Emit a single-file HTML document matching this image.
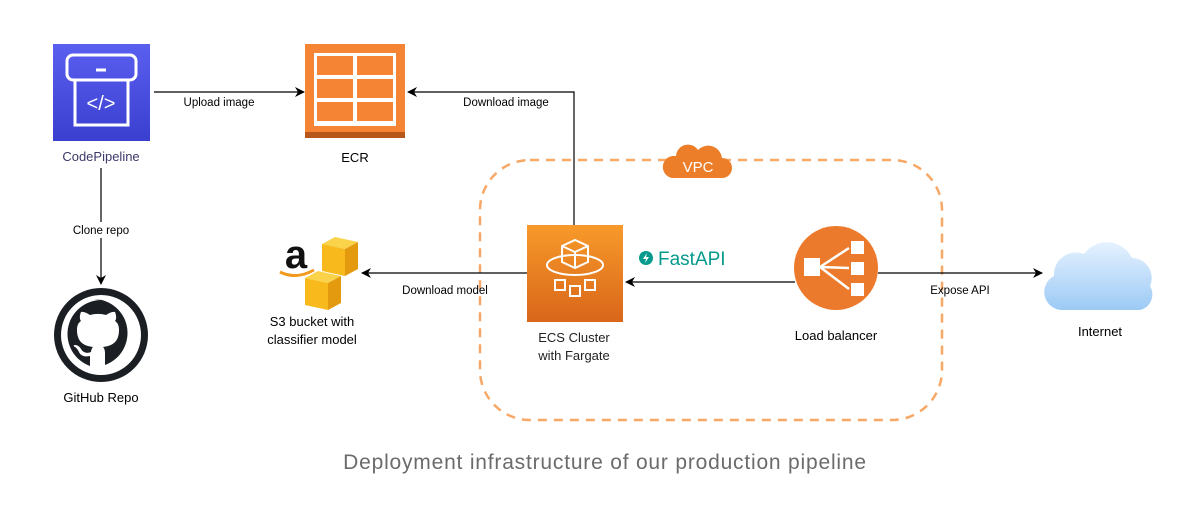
<!DOCTYPE html>
<html><head><meta charset="utf-8"><style>
body{margin:0;background:#fff;}
svg{display:block;font-family:"Liberation Sans",sans-serif;}
</style></head><body>
<svg width="1200" height="506" viewBox="0 0 1200 506">
<defs>
<linearGradient id="bl" x1="0" y1="0" x2="0" y2="1"><stop offset="0" stop-color="#5a5ff0"/><stop offset="1" stop-color="#3b3fd0"/></linearGradient>
<linearGradient id="or" x1="0" y1="0" x2="0" y2="1"><stop offset="0" stop-color="#f79a2a"/><stop offset="1" stop-color="#d9661a"/></linearGradient>
<linearGradient id="cl" x1="0" y1="0" x2="0" y2="1"><stop offset="0" stop-color="#e6f2ff"/><stop offset="1" stop-color="#9ccaf5"/></linearGradient>
<marker id="ar" markerWidth="10" markerHeight="10" refX="9" refY="5" orient="auto" markerUnits="userSpaceOnUse"><path d="M0,0 L10,5 L0,10 L3,5 z" fill="#000"/></marker>
</defs>
<!-- VPC -->
<rect x="480" y="160" width="462" height="260" rx="50" fill="none" stroke="#f7a866" stroke-width="2.5" stroke-dasharray="9 7"/>
<path d="M672,178 h50 a10,10 0 0 0 0,-20 a14,14 0 0 0 -24,-8 a12,12 0 0 0 -22,6 a11,11 0 0 0 -4,22 z" fill="#ec7e2a"/>
<text x="698" y="172" font-size="15" fill="#fff" text-anchor="middle">VPC</text>
<!-- CodePipeline -->
<rect x="53" y="44" width="97" height="97" fill="url(#bl)"/>
<rect x="67" y="55" width="69" height="25" rx="6" fill="none" stroke="#fff" stroke-width="3"/>
<line x1="96" y1="70" x2="106" y2="70" stroke="#fff" stroke-width="3"/>
<rect x="75" y="80" width="53" height="45" fill="none" stroke="#fff" stroke-width="3"/>
<text x="101" y="110" font-size="20" fill="#fff" text-anchor="middle">&lt;/&gt;</text>
<text x="101" y="161" font-size="13" fill="#3a3a6a" text-anchor="middle">CodePipeline</text>
<!-- Upload -->
<line x1="154" y1="92" x2="304" y2="92" stroke="#000" stroke-width="1.2" marker-end="url(#ar)"/>
<text x="219" y="106" font-size="11.5" text-anchor="middle">Upload image</text>
<!-- ECR -->
<rect x="305" y="44" width="100" height="94" fill="#f58534"/>
<rect x="305" y="132" width="100" height="6" fill="#b8571c"/>
<rect x="314" y="53" width="82" height="73" fill="#fff"/>
<g fill="#f58534">
<rect x="317" y="56" width="36" height="19"/><rect x="357" y="56" width="36" height="19"/>
<rect x="317" y="79" width="36" height="19"/><rect x="357" y="79" width="36" height="19"/>
<rect x="317" y="102" width="36" height="19"/><rect x="357" y="102" width="36" height="19"/>
</g>
<text x="355" y="162" font-size="13" text-anchor="middle">ECR</text>
<!-- download image -->
<polyline points="574,225 574,92 408,92" fill="none" stroke="#000" stroke-width="1.2" marker-end="url(#ar)"/>
<text x="506" y="106" font-size="11.5" text-anchor="middle">Download image</text>
<!-- Clone -->
<line x1="101" y1="168" x2="101" y2="284" stroke="#000" stroke-width="1.2" marker-end="url(#ar)"/>
<rect x="60" y="222" width="82" height="16" fill="#fff"/>
<text x="101" y="234" font-size="11.5" text-anchor="middle">Clone repo</text>
<!-- GitHub -->
<circle cx="101" cy="335" r="47" fill="#1b1f23"/>
<circle cx="101" cy="335" r="40" fill="#fff"/>
<path d="M101,300 a34,34 0 0 0 -11,66 v-10 c-9,2 -11,-4 -11,-4 c-2,-4 -4,-5 -4,-5 c-3,-2 0,-2 0,-2 c4,0 6,4 6,4 c3,5 8,4 10,3 c0,-2 1,-4 2,-5 c-8,-1 -16,-4 -16,-17 c0,-4 1,-7 4,-9 c-1,-1 -2,-4 0,-9 c0,0 3,-1 9,3 a30,30 0 0 1 16,0 c6,-4 9,-3 9,-3 c2,5 1,8 0,9 c3,2 4,5 4,9 c0,13 -8,16 -16,17 c1,1 2,3 2,6 v12 a34,34 0 0 0 -11,-66 z" fill="#1b1f23"/>
<text x="101" y="402" font-size="13" text-anchor="middle">GitHub Repo</text>
<!-- S3 -->
<text x="296" y="268" font-size="40" font-weight="bold" text-anchor="middle" fill="#111">a</text>
<path d="M280,272 q16,8 34,-2" fill="none" stroke="#f29a1e" stroke-width="3"/>
<g>
<path d="M322,244 l13,-7 l23,5 l-13,7 z" fill="#fbd34a"/>
<path d="M322,244 l23,5 v27 l-23,-5 z" fill="#f8b91c"/>
<path d="M345,249 l13,-7 v27 l-13,7 z" fill="#e49a0e"/>
<path d="M305,278 l13,-7 l23,5 l-13,7 z" fill="#fbd34a"/>
<path d="M305,278 l23,5 v27 l-23,-5 z" fill="#f8b91c"/>
<path d="M328,283 l13,-7 v27 l-13,7 z" fill="#e49a0e"/>
</g>
<text x="312" y="326" font-size="13" text-anchor="middle">S3 bucket with</text>
<text x="312" y="344" font-size="13" text-anchor="middle">classifier model</text>
<line x1="527" y1="273" x2="362" y2="273" stroke="#000" stroke-width="1.2" marker-end="url(#ar)"/>
<text x="445" y="294" font-size="11.5" text-anchor="middle">Download model</text>
<!-- ECS -->
<rect x="527" y="225" width="96" height="97" fill="url(#or)"/>
<g fill="none" stroke="#fff" stroke-width="2">
<path d="M562,246 l13,-6 l13,6 v16 l-13,6 l-13,-6 z M562,246 l13,6 l13,-6 M575,252 v16"/>
<ellipse cx="575" cy="265" rx="28" ry="10"/>
<rect x="555" y="280" width="10" height="10"/><rect x="570" y="286" width="10" height="10"/><rect x="585" y="280" width="10" height="10"/>
</g>
<text x="574" y="342" font-size="13" fill="#222" text-anchor="middle">ECS Cluster</text>
<text x="574" y="360" font-size="13" fill="#222" text-anchor="middle">with Fargate</text>
<!-- FastAPI -->
<circle cx="646" cy="258" r="7" fill="#059a8c"/>
<path d="M647,253 l-4,6 h3 l-1,4 l4,-6 h-3 z" fill="#fff"/>
<text x="658" y="265" font-size="19" fill="#059a8c">FastAPI</text>
<line x1="795" y1="282" x2="626" y2="282" stroke="#000" stroke-width="1.2" marker-end="url(#ar)"/>
<!-- LB -->
<circle cx="836" cy="268" r="42" fill="#ec7a2c"/>
<g fill="#fff"><rect x="804" y="258" width="16" height="18"/><rect x="851" y="241" width="13" height="13"/><rect x="851" y="262" width="13" height="13"/><rect x="851" y="283" width="13" height="13"/></g>
<g stroke="#fff" stroke-width="2.5"><line x1="820" y1="267" x2="849" y2="248"/><line x1="820" y1="267" x2="849" y2="268"/><line x1="820" y1="267" x2="849" y2="289"/></g>
<text x="836" y="340" font-size="13" text-anchor="middle">Load balancer</text>
<line x1="878" y1="273" x2="1042" y2="273" stroke="#000" stroke-width="1.2" marker-end="url(#ar)"/>
<text x="960" y="294" font-size="11.5" text-anchor="middle">Expose API</text>
<!-- Internet -->
<path d="M1062,310 a18,18 0 0 1 -8,-34 a22,22 0 0 1 30,-22 a28,28 0 0 1 48,4 a20,20 0 0 1 18,28 a16,16 0 0 1 -10,24 z" fill="url(#cl)"/>
<text x="1100" y="336" font-size="13" text-anchor="middle">Internet</text>
<!-- caption -->
<text x="605" y="469" font-size="21" letter-spacing="0.8" fill="#6b6b6b" text-anchor="middle">Deployment infrastructure of our production pipeline</text>
</svg>
</body></html>
